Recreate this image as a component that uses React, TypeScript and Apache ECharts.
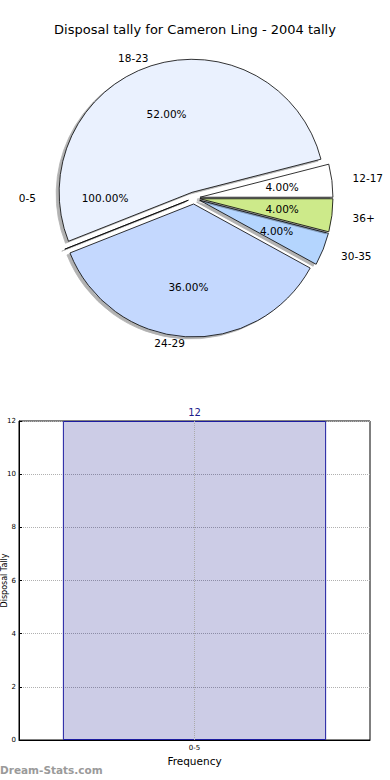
import React, { useEffect, useRef } from "react";
import * as echarts from "echarts";

const chartTitle = "Disposal tally for Cameron Ling - 2004 tally";
const pieCategories = ["12-17", "18-23", "0-5", "24-29", "30-35", "36+"];
const pieValues = [1, 13, 0, 9, 1, 1];
const pieColors = ["#ffffff", "#eaf1fe", "#dde8ff", "#c4d8fe", "#b4d5fe", "#cdea8a"];
const zeroSliceName = "0-5";
const zeroSlicePct = "100.00%";

const barCategories = ["0-5"];
const barValues = [12];
const yMin = 0;
const yMax = 12;
const yInterval = 2;
const xAxisName = "Frequency";
const yAxisName = "Disposal Tally";
const watermark = "Dream-Stats.com";

const FONT = "DejaVu Sans";

export default function App() {
  const ref = useRef<HTMLDivElement>(null);
  useEffect(() => {
    if (!ref.current) return;
    const chart = echarts.init(ref.current, undefined, { renderer: "svg" });

    const R = 133;
    const ellA = 140;
    const ellB = 127;
    const total = pieValues.reduce((s, v) => s + v, 0);
    let acc = 0;
    const labelLens = pieValues.map((v) => {
      const mid = ((acc + v / 2) / total) * 2 * Math.PI;
      acc += v;
      const L = 1.1 * Math.sqrt((ellA * Math.cos(mid)) ** 2 + (ellB * Math.sin(mid)) ** 2);
      return Math.max(0, L - R);
    });

    const outerData = pieCategories.map((name, i) => ({
      name,
      value: pieValues[i],
      selected: true,
      itemStyle: { color: pieColors[i] },
      labelLine: { show: false, length: labelLens[i], length2: 0 },
      label: { show: pieValues[i] > 0 },
    }));
    const innerData = pieCategories.map((name, i) => ({
      name,
      value: pieValues[i],
      selected: true,
      label: { show: pieValues[i] > 0 },
    }));

    chart.setOption({
      animation: false,
      textStyle: { fontFamily: FONT },
      title: {
        text: chartTitle,
        left: "center",
        top: 23,
        padding: 0,
        textStyle: { fontSize: 13, fontWeight: "normal", color: "#000", fontFamily: FONT },
      },
      grid: {
        left: 19,
        right: 20,
        top: 421,
        bottom: 40,
        containLabel: false,
        outerBoundsMode: "none",
        show: true,
        borderColor: "#000",
        borderWidth: 1,
      },
      xAxis: {
        type: "category",
        data: barCategories,
        axisLine: { lineStyle: { color: "#000" } },
        axisTick: { show: false },
        axisLabel: { fontSize: 7, margin: 4, color: "#000", fontFamily: FONT },
        name: xAxisName,
        nameLocation: "middle",
        nameGap: 15,
        nameMoveOverlap: false,
        nameTextStyle: { fontSize: 10.5, color: "#000", fontFamily: FONT },
      },
      yAxis: {
        type: "value",
        min: yMin,
        max: yMax,
        interval: yInterval,
        axisLine: { show: true, lineStyle: { color: "#000" } },
        axisTick: { show: true, inside: true, length: 3, lineStyle: { color: "#000" } },
        axisLabel: { fontSize: 7, margin: 3, color: "#000", fontFamily: FONT },
        splitLine: { show: true, lineStyle: { type: "dotted", color: "#b0b0b0", width: 1 } },
        name: yAxisName,
        nameLocation: "middle",
        nameRotate: 90,
        nameGap: 11,
        nameMoveOverlap: false,
        nameTextStyle: { fontSize: 8, color: "#000", fontFamily: FONT },
      },
      series: [
        {
          type: "pie",
          center: [194, 198],
          radius: [0, R],
          startAngle: 0,
          clockwise: false,
          selectedMode: "multiple",
          selectedOffset: 6,
          avoidLabelOverlap: false,
          silent: true,
          itemStyle: {
            borderColor: "#000",
            borderWidth: 0.8,
            shadowColor: "rgba(0,0,0,0.3)",
            shadowBlur: 0.5,
            shadowOffsetX: -3,
            shadowOffsetY: 2,
          },
          label: {
            position: "outside",
            formatter: "{b}",
            fontSize: 10.5,
            color: "#000",
            fontFamily: FONT,
            distanceToLabelLine: 0,
          },
          labelLine: { show: false },
          data: outerData,
        },
        {
          type: "pie",
          center: [194, 198],
          radius: [R * 0.2, R],
          startAngle: 0,
          clockwise: false,
          selectedMode: "multiple",
          selectedOffset: 6,
          avoidLabelOverlap: false,
          silent: true,
          z: 3,
          itemStyle: { color: "rgba(0,0,0,0)", borderWidth: 0 },
          label: {
            position: "inside",
            rotate: 0,
            fontSize: 10.5,
            color: "#000",
            fontFamily: FONT,
            formatter: (p: any) => `${Number(p.percent).toFixed(2)}%`,
          },
          labelLine: { show: false },
          data: innerData,
        },
        {
          type: "bar",
          data: barValues,
          barWidth: "75%",
          silent: true,
          itemStyle: {
            color: "rgba(0,0,128,0.2)",
            borderColor: "#1c1ca0",
            borderWidth: 1,
          },
          label: {
            show: true,
            position: "top",
            distance: 4,
            color: "#1c1c8c",
            fontSize: 10,
            fontFamily: FONT,
          },
          markLine: {
            silent: true,
            symbol: ["none", "none"],
            label: { show: false },
            lineStyle: { type: "dotted", color: "#aaaaaa", width: 1 },
            data: [{ xAxis: 0 }],
          },
        },
      ],
      graphic: [
        {
          type: "text",
          x: 36,
          y: 198,
          z: 100,
          style: {
            text: zeroSliceName,
            fontSize: 10.5,
            fontFamily: FONT,
            fill: "#000",
            align: "right",
            verticalAlign: "middle",
          },
        },
        {
          type: "text",
          x: 105,
          y: 198,
          z: 100,
          style: {
            text: zeroSlicePct,
            fontSize: 10.5,
            fontFamily: FONT,
            fill: "#000",
            align: "center",
            verticalAlign: "middle",
          },
        },
        {
          type: "text",
          x: 0,
          y: 770,
          z: 100,
          style: {
            text: watermark,
            fontSize: 10.5,
            fontWeight: "bold",
            fontFamily: FONT,
            fill: "#9a9a9a",
            align: "left",
            verticalAlign: "middle",
          },
        },
      ],
    });
    return () => chart.dispose();
  }, []);
  return (
    <div
      ref={ref}
      style={{ position: "absolute", left: 0, top: 0, width: 390, height: 780 }}
    />
  );
}
